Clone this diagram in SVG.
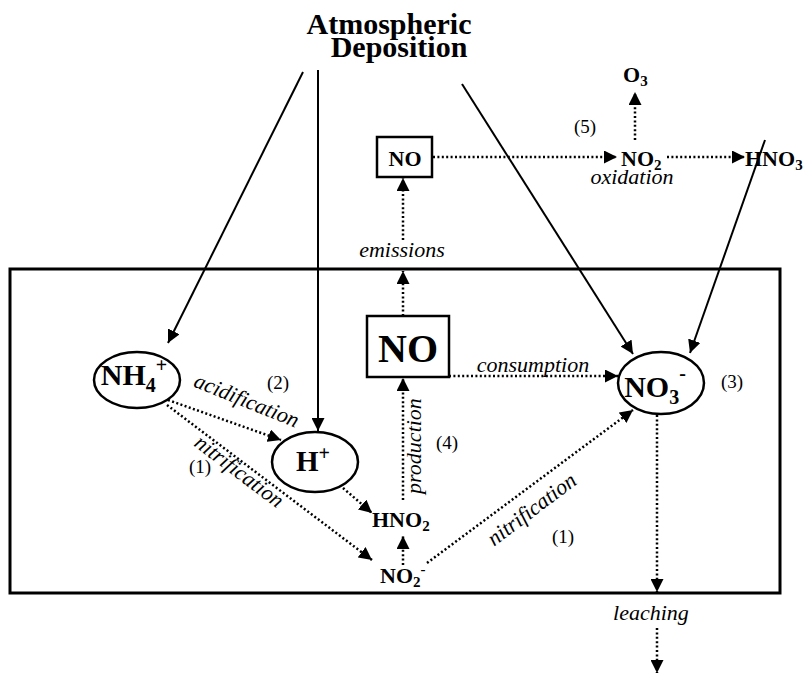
<svg xmlns="http://www.w3.org/2000/svg" width="806" height="675" viewBox="0 0 806 675">
<defs>
<marker id="ah" markerUnits="userSpaceOnUse" markerWidth="13" markerHeight="13" refX="13" refY="6.5" orient="auto">
<path d="M0,0 L13,6.5 L0,13 z" fill="#000"/>
</marker>
<style>
.solid{stroke:#000;stroke-width:2;fill:none;marker-end:url(#ah)}
.dot{stroke:#000;stroke-width:2.5;stroke-dasharray:2 2.4;fill:none;marker-end:url(#ah)}
.node{fill:#fff;stroke:#000;stroke-width:2.5}
.b{font-family:"Liberation Serif","Times New Roman",serif;font-weight:bold;fill:#000}
.i{font-family:"Liberation Serif","Times New Roman",serif;font-style:italic;font-size:22px;fill:#000}
.n{font-family:"Liberation Serif","Times New Roman",serif;font-size:19px;fill:#000}
</style>
</defs>
<rect width="806" height="675" fill="#fff"/>
<rect id="soil" x="10" y="269" width="770" height="324" fill="none" stroke="#000" stroke-width="3"/>

<g id="title">
<text class="b" x="389" y="34" font-size="30" text-anchor="middle">Atmospheric</text>
<text class="b" x="399" y="57" font-size="30" text-anchor="middle">Deposition</text>
</g>

<g id="nh4">
<ellipse class="node" cx="137" cy="380" rx="43" ry="28"/>
<text class="b" x="134" y="385" font-size="30" text-anchor="middle">NH<tspan font-size="20" dy="7">4</tspan><tspan font-size="20" dy="-20">+</tspan></text>
</g>
<g id="hplus">
<ellipse class="node" cx="315" cy="462" rx="43" ry="30"/>
<text class="b" x="313" y="471" font-size="29" text-anchor="middle">H<tspan font-size="20" dy="-11">+</tspan></text>
</g>
<g id="no3">
<ellipse class="node" cx="661" cy="383" rx="43" ry="31"/>
<text class="b" x="655" y="397" font-size="30" text-anchor="middle">NO<tspan font-size="20" dy="7">3</tspan><tspan font-size="20" dy="-24">-</tspan></text>
</g>
<g id="no-soil">
<rect class="node" x="367" y="316" width="82" height="61"/>
<text class="b" x="408" y="362" font-size="40" text-anchor="middle">NO</text>
</g>
<g id="no-air">
<rect class="node" x="377" y="137" width="55" height="40"/>
<text class="b" x="405" y="166" font-size="22" text-anchor="middle">NO</text>
</g>
<g id="hno2">
<text class="b" x="372" y="527" font-size="22">HNO<tspan font-size="15" dy="4">2</tspan></text>
</g>
<g id="no2minus">
<text class="b" x="380" y="583" font-size="22">NO<tspan font-size="15" dy="4">2</tspan><tspan font-size="15" dy="-13">-</tspan></text>
</g>
<g id="no2">
<text class="b" x="621" y="166" font-size="22">NO<tspan font-size="15" dy="4">2</tspan></text>
</g>
<g id="hno3">
<text class="b" x="745" y="166" font-size="22">HNO<tspan font-size="15" dy="4">3</tspan></text>
</g>
<g id="o3">
<text class="b" x="623" y="82" font-size="22">O<tspan font-size="15" dy="4">3</tspan></text>
</g>

<g id="connectors">
<line class="solid" x1="303" y1="72" x2="168" y2="343"/>
<line class="solid" x1="318" y1="70" x2="318" y2="431"/>
<line class="solid" x1="462" y1="84" x2="633" y2="354"/>
<line class="solid" x1="765" y1="140" x2="690" y2="353"/>
<line class="dot" x1="433" y1="157" x2="617" y2="157"/>
<line class="dot" x1="667" y1="157" x2="745" y2="157"/>
<line class="dot" x1="635" y1="140" x2="635" y2="92"/>
<line class="dot" x1="403" y1="316" x2="403" y2="271"/>
<line class="dot" x1="403" y1="240" x2="403" y2="178"/>
<line class="dot" x1="449" y1="376" x2="618" y2="376"/>
<line class="dot" x1="403" y1="500" x2="403" y2="378"/>
<line class="dot" x1="403" y1="565" x2="403" y2="536"/>
<line class="dot" x1="343" y1="488" x2="372" y2="513"/>
<line class="dot" x1="168" y1="400" x2="281" y2="440"/>
<line class="dot" x1="167" y1="405" x2="372" y2="560"/>
<line class="dot" x1="427" y1="563" x2="633" y2="410"/>
<line class="dot" x1="657" y1="415" x2="657" y2="592"/>
<line class="dot" x1="657" y1="628" x2="657" y2="673"/>
</g>

<g id="labels">
<text class="n" x="585" y="133" text-anchor="middle">(5)</text>
<text class="i" x="632" y="184" text-anchor="middle">oxidation</text>
<text class="i" x="402" y="257" text-anchor="middle">emissions</text>
<text class="i" x="533" y="372" text-anchor="middle">consumption</text>
<text class="i" x="421" y="446" text-anchor="middle" transform="rotate(-90 421 446)">production</text>
<text class="n" x="447" y="449" text-anchor="middle">(4)</text>
<text class="i" x="244" y="407" text-anchor="middle" transform="rotate(22 244 407)">acidification</text>
<text class="n" x="278" y="389" text-anchor="middle">(2)</text>
<text class="i" x="235" y="477" text-anchor="middle" transform="rotate(37 235 477)">nitrification</text>
<text class="n" x="200" y="473" text-anchor="middle">(1)</text>
<text class="i" x="536" y="515" text-anchor="middle" transform="rotate(-37 536 515)">nitrification</text>
<text class="n" x="563" y="543" text-anchor="middle">(1)</text>
<text class="n" x="732" y="388" text-anchor="middle">(3)</text>
<text class="i" x="651" y="620" text-anchor="middle">leaching</text>
</g>
</svg>
